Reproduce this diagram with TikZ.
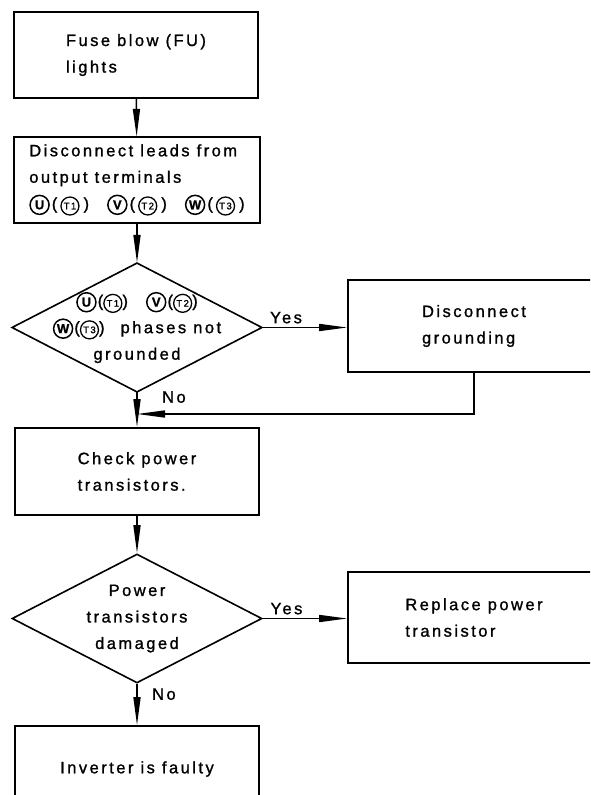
\documentclass[tikz,border=0pt]{standalone}
\usepackage{fontspec}
\setmainfont{Liberation Sans}[LetterSpace=15,FakeBold=1.2]
\usetikzlibrary{arrows.meta,shapes.geometric}
\newcommand{\phaseU}[1]{\tikz[baseline=(pc.base)]\node[circle,draw,line width=1.5pt,minimum size=19pt,inner sep=0pt,font=\fontsize{13}{13}\selectfont\bfseries](pc){#1};}
\newcommand{\termT}[1]{\tikz[baseline=(tc.base)]\node[circle,draw,line width=1.3pt,minimum size=18pt,inner sep=0pt,font=\fontsize{9.5}{9.5}\selectfont](tc){T#1};}
\newcommand{\phgrp}[2]{\phaseU{#1}\hspace{1pt}(\termT{#2})}

\begin{document}
\begin{tikzpicture}[x=1pt,y=-1pt,line width=1.6pt,>={Triangle[length=28pt,width=7pt]},
 box/.style={draw,minimum width=244pt,minimum height=86pt,align=left,inner sep=0pt},
 sidebox/.style={draw,minimum width=252pt,minimum height=92pt,align=left,inner sep=0pt},
 decision/.style={diamond,draw,aspect=2,minimum width=250pt,minimum height=129pt,inner xsep=-20pt,inner ysep=-25pt,align=center},
 lbl/.style={font=\fontsize{16.5}{20}\selectfont}]
 \clip (0,0) rectangle (590,795);
 \tikzset{every node/.append style={font=\fontsize{16.5}{26.5}\selectfont}}
 \node[box] (fuse) at (136,55) {Fuse blow (FU)\\lights};
 \node[box,minimum width=246pt] (leads) at (137,180) {Disconnect leads from\\output terminals\\\phaseU{U}\hspace{2pt}(\hspace{3pt}\termT{1}\hspace{4pt})\hspace{18pt}\phaseU{V}\hspace{2pt}(\hspace{3pt}\termT{2}\hspace{4pt})\hspace{18pt}\phaseU{W}\hspace{2pt}(\hspace{3pt}\termT{3}\hspace{4pt})};
 \node[decision] (gnd) at (137,327.5) {\phgrp{U}{1}\hspace{18pt}\phgrp{V}{2}\\\phgrp{W}{3}\hspace{16pt}phases not\\grounded};
 \node[sidebox] (ungnd) at (474,326) {Disconnect\\grounding};
 \node[box,minimum height=87pt] (check) at (137,471.5) {Check power\\transistors.};
 \node[decision] (dmg) at (137,618.5) {Power\\transistors\\damaged};
 \node[sidebox,minimum height=91pt] (repl) at (474,617.5) {Replace power\\transistor};
 \node[box] (fault) at (137,769) {Inverter is faulty};
 \coordinate (join) at (137,414);
 \draw[->] (fuse) -- (leads);
 \draw[->] (leads) -- (gnd);
 \draw[->] (gnd.east) -- (gnd.east -| ungnd.west) node[pos=.28,above,lbl] {Yes};
 \draw[->] (gnd.south) -- (check.north) node[pos=.14,right=21pt,lbl] {No};
 \draw[->] (ungnd.south) |- (join);
 \draw[->] (check) -- (dmg);
 \draw[->] (dmg.east) -- (dmg.east -| repl.west) node[pos=.28,above,lbl] {Yes};
 \draw[->] (dmg.south) -- (fault.north) node[pos=.25,right=11pt,lbl] {No};
\end{tikzpicture}
\end{document}
